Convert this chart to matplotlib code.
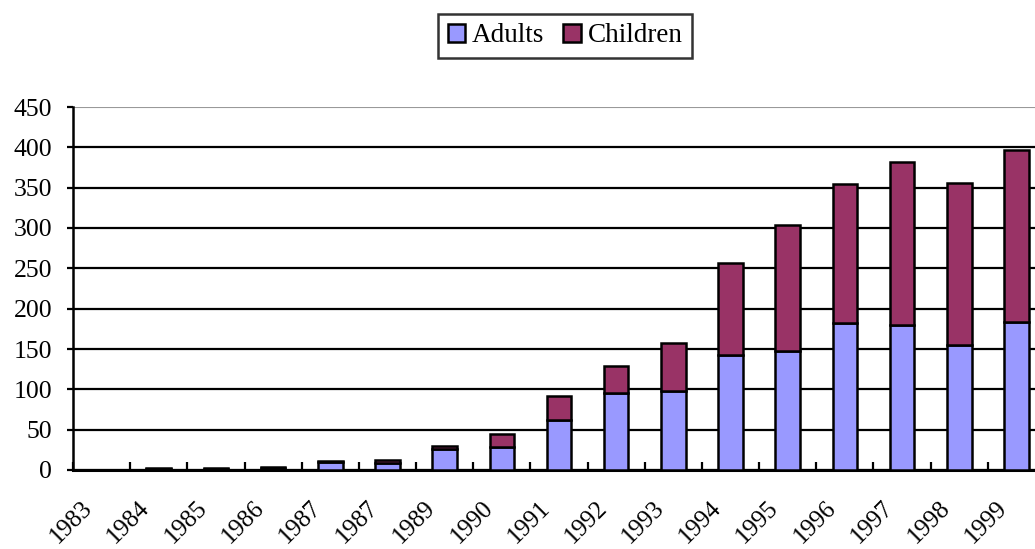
import matplotlib
matplotlib.use("Agg")
import matplotlib.pyplot as plt
import matplotlib.transforms as mtransforms
import numpy as np

years = ["1983", "1984", "1985", "1986", "1987", "1987", "1989", "1990", "1991",
         "1992", "1993", "1994", "1995", "1996", "1997", "1998", "1999"]
adults = [0, 1, 1, 3, 10, 9, 26, 29, 62, 95, 98, 143, 147, 182, 180, 155, 183]
children = [0, 1, 1, 1, 1, 3, 4, 16, 30, 34, 60, 114, 157, 172, 202, 201, 214]

ADULT_COLOR = "#9999FF"
CHILD_COLOR = "#993366"

plt.rcParams["font.family"] = ["Liberation Serif", "DejaVu Serif"]

fig = plt.figure(figsize=(10.35, 5.49), dpi=100)
ax = fig.add_axes([73 / 1035, 79 / 549, 972 / 1035, 363 / 549])

x = np.arange(len(years))
width = 0.43
ax.bar(x, adults, width, color=ADULT_COLOR, edgecolor="black", linewidth=1.8,
       label="Adults", zorder=3)
ax.bar(x, children, width, bottom=adults, color=CHILD_COLOR, edgecolor="black",
       linewidth=1.8, label="Children", zorder=3)

ax.set_xlim(-0.5, len(years) - 0.5)
ax.set_ylim(0, 450)
ax.set_yticks(np.arange(0, 451, 50))

# category boundaries get the tick marks, centres get the labels
ax.set_xticks(np.arange(-0.5, len(years), 1.0))
ax.set_xticklabels([])
ax.set_xticks(x, minor=True)
ax.set_xticklabels(years, minor=True, rotation=45, ha="right", va="center",
                   rotation_mode="anchor", fontsize=18)
ax.tick_params(axis="x", which="major", direction="in", length=6, width=1.6)
ax.tick_params(axis="x", which="minor", length=0, pad=25)
offset = mtransforms.ScaledTranslation(-9 / 72, 0, fig.dpi_scale_trans)
for lbl in ax.get_xticklabels(minor=True):
    lbl.set_transform(lbl.get_transform() + offset)

ax.tick_params(axis="y", direction="out", length=4, width=1.6, labelsize=18.5, pad=11)

ax.yaxis.grid(True, color="black", linewidth=1.6, zorder=1)
ax.set_axisbelow(True)
ax.get_ygridlines()[-1].set_color("#999999")
ax.get_ygridlines()[-1].set_linewidth(0.8)

for side in ["top", "right"]:
    ax.spines[side].set_visible(False)
ax.spines["left"].set_linewidth(1.8)
ax.spines["bottom"].set_linewidth(2.2)

leg = fig.legend(loc="center", bbox_to_anchor=(565 / 1035, 1 - 36 / 549), ncol=2,
                 fontsize=19.5, frameon=True, fancybox=False, handlelength=0.65,
                 handleheight=0.65, handletextpad=0.25, columnspacing=0.7,
                 borderpad=0.35, borderaxespad=0)
leg.get_frame().set_edgecolor("black")
leg.get_frame().set_linewidth(1.8)

fig.savefig("out.png", dpi=100)
